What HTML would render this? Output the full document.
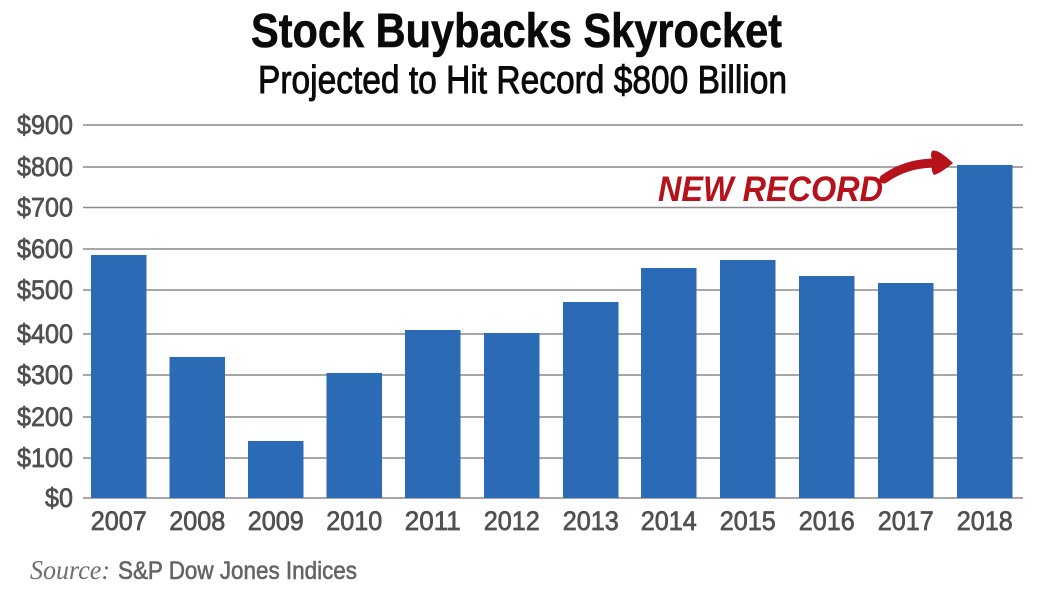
<!DOCTYPE html>
<html>
<head>
<meta charset="utf-8">
<style>
  html, body { margin: 0; padding: 0; background: #ffffff; }
  svg { display: block; }
</style>
</head>
<body>
<svg width="1041" height="594" viewBox="0 0 1041 594" xmlns="http://www.w3.org/2000/svg">
  <rect x="0" y="0" width="1041" height="594" fill="#ffffff"/>

  <!-- Title -->
  <text x="251" y="47" font-family="Liberation Sans, sans-serif" font-weight="bold" font-size="48" fill="#0a0a0a" stroke="#0a0a0a" stroke-width="0.6" textLength="531" lengthAdjust="spacingAndGlyphs">Stock Buybacks Skyrocket</text>
  <text x="258" y="93" font-family="Liberation Sans, sans-serif" font-size="39" fill="#0a0a0a" stroke="#0a0a0a" stroke-width="0.9" textLength="529" lengthAdjust="spacingAndGlyphs">Projected to Hit Record $800 Billion</text>

  <!-- Gridlines -->
  <g stroke="#8a8a8a" stroke-width="1.4">
    <line x1="83" y1="125" x2="1023" y2="125"/>
    <line x1="83" y1="167" x2="1023" y2="167"/>
    <line x1="83" y1="207.5" x2="1023" y2="207.5"/>
    <line x1="83" y1="249" x2="1023" y2="249"/>
    <line x1="83" y1="290" x2="1023" y2="290"/>
    <line x1="83" y1="334" x2="1023" y2="334"/>
    <line x1="83" y1="375" x2="1023" y2="375"/>
    <line x1="83" y1="417" x2="1023" y2="417"/>
    <line x1="83" y1="458" x2="1023" y2="458"/>
    <line x1="83" y1="498" x2="1023" y2="498"/>
  </g>

  <!-- Y labels -->
  <g font-family="Liberation Sans, sans-serif" font-size="26.5" fill="#505052" stroke="#505052" stroke-width="0.7" text-anchor="end">
    <text x="73" y="134" textLength="56" lengthAdjust="spacingAndGlyphs">$900</text>
    <text x="73" y="176" textLength="56" lengthAdjust="spacingAndGlyphs">$800</text>
    <text x="73" y="216.5" textLength="56" lengthAdjust="spacingAndGlyphs">$700</text>
    <text x="73" y="258" textLength="56" lengthAdjust="spacingAndGlyphs">$600</text>
    <text x="73" y="299" textLength="56" lengthAdjust="spacingAndGlyphs">$500</text>
    <text x="73" y="343" textLength="56" lengthAdjust="spacingAndGlyphs">$400</text>
    <text x="73" y="384" textLength="56" lengthAdjust="spacingAndGlyphs">$300</text>
    <text x="73" y="426" textLength="56" lengthAdjust="spacingAndGlyphs">$200</text>
    <text x="73" y="467" textLength="56" lengthAdjust="spacingAndGlyphs">$100</text>
    <text x="73" y="507" textLength="28" lengthAdjust="spacingAndGlyphs">$0</text>
  </g>

  <!-- Bars -->
  <g fill="#2b6bb5">
    <rect x="91" y="255" width="55.5" height="243"/>
    <rect x="169.5" y="357" width="55.5" height="141"/>
    <rect x="248" y="441" width="55.5" height="57"/>
    <rect x="326.5" y="373" width="55.5" height="125"/>
    <rect x="405" y="330" width="55.5" height="168"/>
    <rect x="484" y="333" width="55.5" height="165"/>
    <rect x="563" y="302" width="55.5" height="196"/>
    <rect x="641" y="268" width="55.5" height="230"/>
    <rect x="720" y="260" width="55.5" height="238"/>
    <rect x="799" y="276" width="55.5" height="222"/>
    <rect x="878" y="283" width="55.5" height="215"/>
    <rect x="957" y="165" width="55.5" height="333"/>
  </g>

  <!-- X labels -->
  <g font-family="Liberation Sans, sans-serif" font-size="26.5" fill="#505052" stroke="#505052" stroke-width="0.7" text-anchor="middle">
    <text x="118.75" y="530" textLength="56" lengthAdjust="spacingAndGlyphs">2007</text>
    <text x="197.25" y="530" textLength="56" lengthAdjust="spacingAndGlyphs">2008</text>
    <text x="275.75" y="530" textLength="56" lengthAdjust="spacingAndGlyphs">2009</text>
    <text x="354.25" y="530" textLength="56" lengthAdjust="spacingAndGlyphs">2010</text>
    <text x="432.75" y="530" textLength="56" lengthAdjust="spacingAndGlyphs">2011</text>
    <text x="511.75" y="530" textLength="56" lengthAdjust="spacingAndGlyphs">2012</text>
    <text x="590.75" y="530" textLength="56" lengthAdjust="spacingAndGlyphs">2013</text>
    <text x="668.75" y="530" textLength="56" lengthAdjust="spacingAndGlyphs">2014</text>
    <text x="747.75" y="530" textLength="56" lengthAdjust="spacingAndGlyphs">2015</text>
    <text x="826.75" y="530" textLength="56" lengthAdjust="spacingAndGlyphs">2016</text>
    <text x="905.75" y="530" textLength="56" lengthAdjust="spacingAndGlyphs">2017</text>
    <text x="984.75" y="530" textLength="56" lengthAdjust="spacingAndGlyphs">2018</text>
  </g>

  <!-- NEW RECORD annotation -->
  <text x="658" y="201" font-family="Liberation Sans, sans-serif" font-weight="bold" font-style="italic" font-size="35" fill="#b5121b" textLength="225" lengthAdjust="spacingAndGlyphs">NEW RECORD</text>
  <path d="M884,179 Q906,163 936,163" fill="none" stroke="#b5121b" stroke-width="9" stroke-linecap="round"/>
  <path d="M932,151 Q937,148 953,163 Q941,173 934,175 Q929,168 935,163 Q929,157 932,151 Z" fill="#b5121b"/>

  <!-- Source -->
  <text x="30" y="579" font-family="Liberation Serif, serif" font-style="italic" font-size="27" fill="#6d6e71" textLength="80" lengthAdjust="spacingAndGlyphs">Source:</text>
  <text x="118" y="579" font-family="Liberation Sans, sans-serif" font-size="25" fill="#646568" stroke="#646568" stroke-width="0.6" textLength="239" lengthAdjust="spacingAndGlyphs">S&amp;P Dow Jones Indices</text>
</svg>
</body>
</html>
